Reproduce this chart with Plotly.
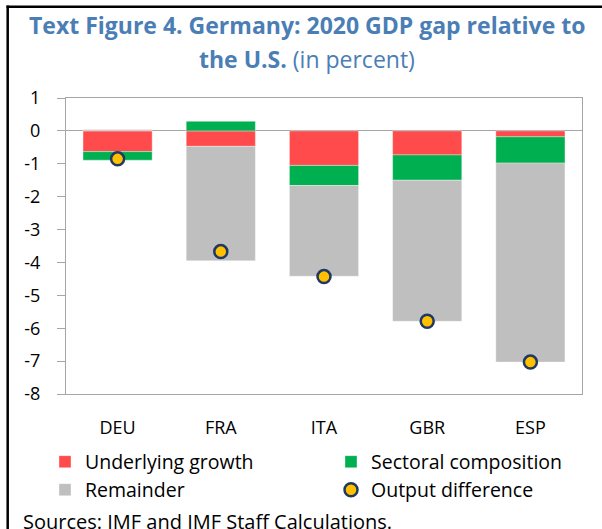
import plotly.graph_objects as go

countries = ["DEU", "FRA", "ITA", "GBR", "ESP"]
underlying_growth = [-0.63, -0.47, -1.05, -0.73, -0.18]
sectoral_composition = [-0.26, 0.29, -0.61, -0.77, -0.80]
remainder = [0.04, -3.48, -2.76, -4.29, -6.05]
output_difference = [-0.85, -3.67, -4.43, -5.79, -7.03]
y_ticks = list(range(-8, 2))

FONT = "Open Sans"
W, H = 602, 529
L, R, T, B = 66, 20, 98, 135
PW, PH = W - L - R, H - T - B


def px_to_paper_x(px):
    return (px - L) / PW


def px_to_paper_y(py):
    return (H - B - py) / PH


bar_line = dict(color="rgba(255,255,255,0.6)", width=0.6)
fig = go.Figure()
fig.add_trace(go.Bar(x=countries, y=underlying_growth, name="Underlying growth",
                     marker=dict(color="#FF4B4B", line=bar_line), legend="legend"))
fig.add_trace(go.Bar(x=countries, y=sectoral_composition, name="Sectoral composition",
                     marker=dict(color="#00B050", line=bar_line), legend="legend2"))
fig.add_trace(go.Bar(x=countries, y=remainder, name="Remainder",
                     marker=dict(color="#BFBFBF", line=bar_line), legend="legend3"))
fig.add_trace(go.Scatter(x=countries, y=output_difference, name="Output difference",
                         mode="markers",
                         marker=dict(color="#FFC000", size=13,
                                     line=dict(color="#1F3864", width=2.5)),
                         legend="legend4"))

title_color = "#4A7EB5"
fig.add_annotation(text="<b>Text Figure 4. Germany: 2020 GDP gap relative to</b>",
                   xref="paper", yref="paper", x=px_to_paper_x(307), y=px_to_paper_y(25),
                   xanchor="center", yanchor="middle", showarrow=False,
                   font=dict(family=FONT, size=23, color=title_color))
fig.add_annotation(text="<b>the U.S.</b> (in percent)",
                   xref="paper", yref="paper", x=px_to_paper_x(307), y=px_to_paper_y(59),
                   xanchor="center", yanchor="middle", showarrow=False,
                   font=dict(family=FONT, size=23, color=title_color))
fig.add_annotation(text="Sources: IMF and IMF Staff Calculations.",
                   xref="paper", yref="paper", x=px_to_paper_x(21), y=px_to_paper_y(521),
                   xanchor="left", yanchor="middle", showarrow=False,
                   font=dict(family=FONT, size=20, color="#000000"))

# frame lines (left and top border of the exhibit)
fig.add_shape(type="line", xref="paper", yref="paper",
              x0=px_to_paper_x(7.7), x1=px_to_paper_x(7.7),
              y0=px_to_paper_y(5.5), y1=px_to_paper_y(540),
              line=dict(color="black", width=2.5))
fig.add_shape(type="line", xref="paper", yref="paper",
              x0=px_to_paper_x(6.5), x1=px_to_paper_x(610),
              y0=px_to_paper_y(6.8), y1=px_to_paper_y(6.8),
              line=dict(color="black", width=2.5))

legend_common = dict(orientation="h", font=dict(family=FONT, size=19.5, color="#000000"),
                     bgcolor="rgba(0,0,0,0)", borderwidth=0,
                     xanchor="left", yanchor="middle", itemclick=False)
col1, col2 = 45, 331
row1, row2 = 462, 490
fig.update_layout(
    width=W, height=H,
    margin=dict(l=L, r=R, t=T, b=B, autoexpand=False),
    paper_bgcolor="white", plot_bgcolor="white",
    barmode="relative", bargap=0.33,
    font=dict(family=FONT, size=18, color="#000000"),
    showlegend=True,
    legend=dict(x=px_to_paper_x(col1), y=px_to_paper_y(row1), **legend_common),
    legend2=dict(x=px_to_paper_x(col2), y=px_to_paper_y(row1), **legend_common),
    legend3=dict(x=px_to_paper_x(col1), y=px_to_paper_y(row2), **legend_common),
    legend4=dict(x=px_to_paper_x(col2), y=px_to_paper_y(row2), **legend_common),
    xaxis=dict(showline=True, mirror=True, linecolor="#A6A6A6", linewidth=1,
               ticks="", showgrid=False, ticklabelstandoff=17,
               tickfont=dict(family=FONT, size=18, color="#000000")),
    yaxis=dict(range=[-8, 1], tickvals=y_ticks, ticktext=[str(v) for v in y_ticks],
               showline=True, mirror=True, linecolor="#A6A6A6", linewidth=1,
               ticks="outside", ticklen=8, tickcolor="#A6A6A6",
               showgrid=False, zeroline=True, zerolinecolor="#A6A6A6", zerolinewidth=1,
               ticklabelstandoff=13,
               tickfont=dict(family=FONT, size=18, color="#000000")),
)

fig.write_html("out.html", config={"displayModeBar": False},
               post_script="document.body.style.margin='0';")
